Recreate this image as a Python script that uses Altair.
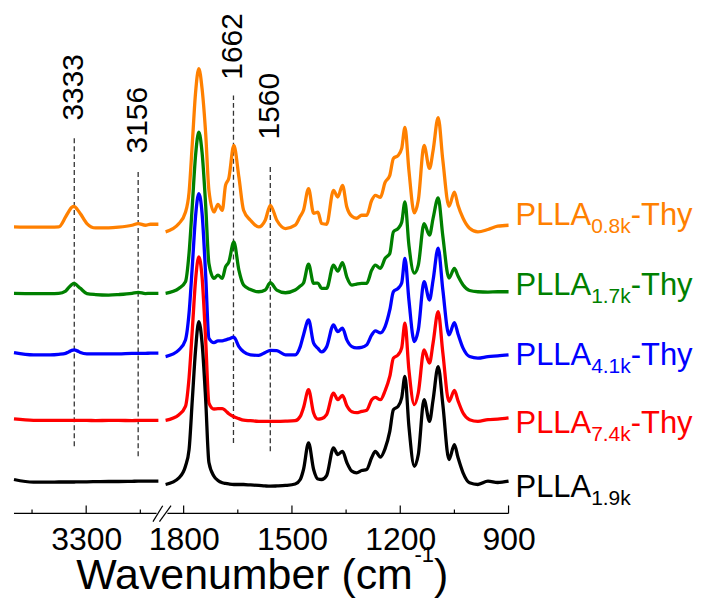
import altair as alt
import pandas as pd

# ---------------- data ----------------
# broken wavenumber axis: high range 3500-3100, low range 1850-900 (cm-1)
HIGH_START, HIGH_END = 3500, 3100
LOW_START, LOW_END = 1850, 900
GAP = 20  # width of the axis break, in cm-1 of the plot scale

wn_high = [3500, 3446, 3400, 3376, 3357, 3348, 3340, 3333, 3325, 3316,
           3298, 3274, 3238, 3210, 3173, 3156, 3136, 3122, 3100]
wn_low = [1850, 1813, 1795, 1785, 1776, 1767, 1758, 1749, 1739, 1730,
          1716, 1705, 1693, 1684, 1675, 1661, 1647, 1634, 1615, 1592,
          1574, 1560, 1542, 1518, 1491, 1477, 1468, 1454, 1440, 1428,
          1418, 1404, 1385, 1373, 1360, 1348, 1334, 1321, 1307, 1293,
          1279, 1269, 1255, 1242, 1229, 1219, 1206, 1196, 1187, 1176,
          1161, 1150, 1134, 1119, 1109, 1095, 1082, 1065, 1050, 1040,
          1026, 1008, 985, 957, 930, 900]

series = ["PLLA0.8k-Thy", "PLLA1.7k-Thy", "PLLA4.1k-Thy", "PLLA7.4k-Thy", "PLLA1.9k"]
label_main = ["PLLA", "PLLA", "PLLA", "PLLA", "PLLA"]
label_sub = ["0.8k", "1.7k", "4.1k", "7.4k", "1.9k"]
label_tail = ["-Thy", "-Thy", "-Thy", "-Thy", ""]
colors = ["#FF8000", "#008000", "#0000FF", "#FF0000", "#000000"]

# stacked absorbance (a.u.), high-wavenumber range
orange_high = [287.3, 287, 287, 287.3, 297.3, 303, 307, 308, 305, 300.5,
               290.7, 286.3, 286.3, 287, 289, 290.7, 289, 290, 290]
green_high = [220.7, 220.5, 220.5, 220.7, 223, 226.7, 229.5, 230.7, 228.5, 225.7,
              220.5, 219.5, 219, 219.5, 220.7, 221.7, 220.5, 220.7, 220.7]
blue_high = [161.3, 159, 159, 159.5, 160.5, 162, 163.5, 164, 163, 161.3,
             160, 160, 160, 160, 160.5, 160.5, 160.5, 160.7, 160.7]
red_high = [94.7, 93.3, 93.3, 93.3, 93.3, 93.3, 93.3, 93.3, 93.3, 93.3,
            93.3, 93, 93.3, 93.3, 93, 93.3, 93.3, 93.3, 93.3]
black_high = [34, 31.3, 31.3, 31.5, 31.5, 31.5, 31.5, 31.5, 31.7, 31.7,
              31.7, 31.8, 32, 32, 32.2, 32.3, 32.3, 32.3, 32.3]

# stacked absorbance (a.u.), low-wavenumber range
orange_low = [282.3, 290.7, 302, 322, 371, 422, 446, 426, 381, 324,
              302.3, 310, 304, 329, 336, 369, 337.3, 304, 294, 287.3,
              294, 309, 294, 285.7, 289, 298, 304, 325.7, 301, 302,
              290.7, 290, 324, 317.3, 329, 307.3, 298, 296, 299, 299,
              314, 319, 317, 332, 339, 356, 359, 366, 387, 344,
              301.3, 314, 369, 346, 364, 397, 354, 308, 322.3, 309,
              296, 286, 282.3, 284.7, 288, 289]
green_low = [220.7, 225.7, 232.3, 261, 309, 359, 382.3, 362, 309, 250.7,
             235.7, 239, 235.7, 247.3, 252, 272.3, 244, 229, 224.5, 222.3,
             224, 231.3, 224, 221.3, 224, 228, 231, 250, 230.7, 231,
             225.7, 225.7, 249, 243, 251.5, 237, 229, 230, 230.7, 230.7,
             244, 249, 245.7, 255.7, 260.7, 282.3, 285.7, 292, 312.3, 269,
             241, 249, 290.7, 279, 296, 316.3, 278, 236, 245.7, 238,
             229, 223.5, 222.3, 222, 222.3, 222.3]
blue_low = [157.3, 164, 174, 201, 248, 298, 320.7, 301, 239, 175.7,
            171.3, 173, 173, 174, 175, 176.7, 167.3, 162, 159, 158.5,
            161.3, 163.5, 163.3, 159, 159, 167.3, 179, 194, 170.7, 165.5,
            162, 167, 189, 182.3, 185.7, 174, 167.3, 166, 166.5, 169,
            179, 183, 181, 187.3, 204, 222.3, 225.7, 231, 255.7, 214,
            172.3, 184, 232.3, 214, 234, 266, 224, 179, 191.3, 180,
            165.7, 157.3, 155.7, 157.3, 158, 159]
red_low = [93.3, 99, 107.3, 136, 184, 234, 257.3, 237, 174, 110.7,
           104.7, 105, 105, 103, 100, 97, 95, 93.5, 93, 92.3,
           92.3, 92.3, 92.3, 92.5, 93, 97.3, 106, 124, 100.7, 94.5,
           95, 99, 120.7, 114, 118.3, 108, 102, 101, 102.3, 103.5,
           114, 116.3, 114, 123, 137.3, 155.7, 159, 166, 190.7, 144,
           109, 121, 164, 150.7, 171, 202.3, 161, 112.3, 123.3, 113,
           100.7, 94, 92.3, 94, 94.5, 95.7]
black_low = [29, 35.7, 47.3, 64, 114, 164, 192.3, 171, 114, 51,
             37.3, 33, 30.7, 30, 29.5, 29, 29, 29, 28.5, 28,
             27.5, 27.3, 27.5, 28, 29.5, 34, 44, 70.7, 44, 34.5,
             34, 38, 65.7, 59, 62.3, 51, 42.3, 40.7, 43, 44,
             56, 62.3, 56.5, 65, 82.3, 104, 107.3, 116, 137.3, 87.3,
             47.3, 59, 114, 92.3, 114, 147.3, 109, 54, 69, 56,
             40.7, 30.7, 29, 32.3, 31, 32.3]

high_values = [orange_high, green_high, blue_high, red_high, black_high]
low_values = [orange_low, green_low, blue_low, red_low, black_low]

# marked bands: wavenumber, dashed line top/bottom and label start (a.u.)
band_wn = [3333, 3156, 1662, 1560]
band_top = [379, 342.3, 419, 349]
band_bottom = [67.3, 57.3, 70.7, 62.3]
band_label_y = [394, 361, 435, 375]

# label baseline heights (a.u.)
label_y = [289, 219, 149, 80.7, 16]

major_ticks = [3300, 1800, 1500, 1200, 900]
minor_ticks = [3450, 3150, 1650, 1350, 1050]

FONT = "Liberation Sans"


def to_plot_x(w):
    if w >= 2500:
        return HIGH_START - w
    return (HIGH_START - HIGH_END) + GAP + (LOW_START - w)


P_MAX = to_plot_x(LOW_END)
LOW_OFFSET = (HIGH_START - HIGH_END) + GAP + LOW_START  # p = LOW_OFFSET - w

W, H = 496, 501

rows = []
for name, hv, lv in zip(series, high_values, low_values):
    for w, v in zip(wn_high, hv):
        rows.append({"series": name, "seg": "high", "wn": w, "p": to_plot_x(w), "a": v})
    for w, v in zip(wn_low, lv):
        rows.append({"series": name, "seg": "low", "wn": w, "p": to_plot_x(w), "a": v})
spec = pd.DataFrame(rows)

xscale = alt.Scale(domain=[0, P_MAX], nice=False, zero=False)
yscale = alt.Scale(domain=[0, H], nice=False, zero=False)
xaxis = alt.Axis(
    values=[to_plot_x(v) for v in major_ticks],
    labelExpr=f"format(datum.value < 410 ? {HIGH_START} - datum.value : {LOW_OFFSET} - datum.value, 'd')",
    domain=False, ticks=False, tickSize=0, grid=False, title=None,
    labelFont=FONT, labelFontSize=32, labelColor="#000000",
    labelPadding=11, labelFlush=False, labelOverlap=False,
)


def X(field="p"):
    return alt.X(f"{field}:Q", scale=xscale, axis=xaxis)


def Y(field):
    return alt.Y(f"{field}:Q", scale=yscale, axis=None)


layers = []

# axis line with a break
axis_df = pd.DataFrame({"p": [0, 425], "p2": [395, P_MAX]})
layers.append(
    alt.Chart(axis_df).mark_rule(color="#000000", strokeWidth=1.2).encode(
        x=X("p"), x2="p2:Q", y=alt.value(H)
    )
)
# inward ticks
tick_df = pd.DataFrame({
    "p": [to_plot_x(v) for v in major_ticks] + [to_plot_x(v) for v in minor_ticks],
    "y0": [0] * 10,
    "len": [8] * 5 + [4] * 5,
})
layers.append(
    alt.Chart(tick_df).mark_rule(color="#000000", strokeWidth=1.2).encode(
        x=X("p"), y=Y("y0"), y2="len:Q"
    )
)
# break marks
brk_df = pd.DataFrame({"p": [385, 403], "p2": [412, 435], "y": [-8.3, -8.3], "y2": [7.7, 7.7]})
layers.append(
    alt.Chart(brk_df).mark_rule(color="#000000", strokeWidth=1.2).encode(
        x=X("p"), x2="p2:Q", y=Y("y"), y2="y2:Q"
    )
)

# dashed band markers and their labels
band_df = pd.DataFrame({
    "p": [to_plot_x(w) for w in band_wn],
    "top": band_top, "bottom": band_bottom, "ly": band_label_y,
    "txt": [str(w) for w in band_wn],
})
layers.append(
    alt.Chart(band_df).mark_rule(color="#333333", strokeWidth=1.3, strokeDash=[5, 3]).encode(
        x=X("p"), y=Y("bottom"), y2="top:Q"
    )
)
layers.append(
    alt.Chart(band_df).mark_text(
        angle=270, align="left", baseline="middle", font=FONT,
        fontSize=30, color="#000000"
    ).encode(x=X("p"), y=Y("ly"), text="txt:N")
)

# spectra (drawn orange first, black last)
for name, col in zip(series, colors):
    layers.append(
        alt.Chart(spec[spec["series"] == name]).mark_line(
            color=col, strokeWidth=3.3, interpolate="monotone"
        ).encode(x=X("p"), y=Y("a"), detail="seg:N")
    )

# series labels with subscripts
lab_df = pd.DataFrame({
    "main": label_main, "sub": label_sub, "tail": label_tail,
    "ly": label_y, "color": colors,
})
LX = 503
MAIN_FS, SUB_FS = 31, 21
main_w = 2.446 * MAIN_FS
sub_w = 1.89 * SUB_FS
for txt, fs, dx, dy in [("main", MAIN_FS, 0, 0), ("sub", SUB_FS, main_w, 8),
                        ("tail", MAIN_FS, main_w + sub_w, 0)]:
    layers.append(
        alt.Chart(lab_df).mark_text(
            align="left", baseline="alphabetic", font=FONT,
            fontSize=fs, dx=dx, dy=dy
        ).encode(
            x=alt.value(LX), y=Y("ly"), text=f"{txt}:N",
            color=alt.Color("color:N", scale=None),
        )
    )

# axis title: Wavenumber (cm^-1)
T_FS, TS_FS = 43, 22
t_main_w = 7.89 * T_FS
t_sup_w = 0.889 * TS_FS
t_close_w = 0.333 * T_FS
TX = 263 - 14 - (t_main_w + t_sup_w + t_close_w) / 2
TY = 577
title_df = pd.DataFrame({"t": ["Wavenumber (cm"], "s": ["-1"], "c": [")"]})
for field, fs, dx, dy in [("t", T_FS, 0, 0), ("s", TS_FS, t_main_w, -27),
                          ("c", T_FS, t_main_w + t_sup_w, 0)]:
    layers.append(
        alt.Chart(title_df).mark_text(
            align="left", baseline="alphabetic", font=FONT,
            fontSize=fs, dx=dx, dy=dy, color="#000000"
        ).encode(x=alt.value(TX), y=alt.value(TY), text=f"{field}:N")
    )

chart = alt.layer(*layers).properties(
    width=W, height=H,
    autosize=alt.AutoSizeParams(type="none"),
    padding={"left": 6, "top": 5, "right": 190, "bottom": 88},
    background="#ffffff",
).configure_view(strokeWidth=0)

chart.save("out.html", embed_options={"renderer": "svg", "actions": False})
